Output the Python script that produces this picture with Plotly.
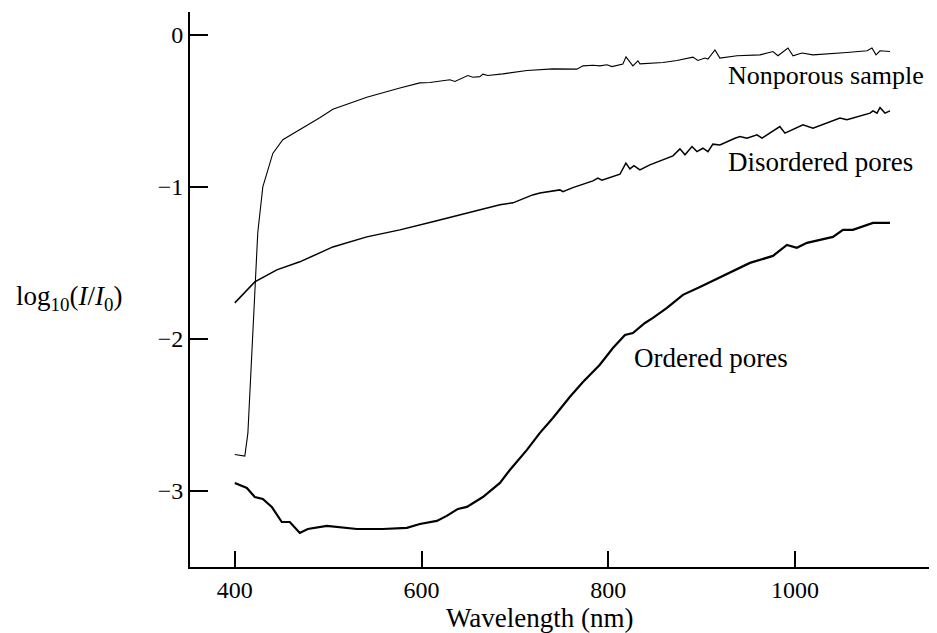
import plotly.graph_objects as go

# Nonporous sample
np_wl = [400, 410.7, 414, 417, 421.4, 424.6, 430, 434.3, 440.7, 451.4, 469.6, 491, 505, 541.4, 576.8,
         598.2, 608.9, 630.4, 635.7, 649.6, 655, 662.5, 665.7, 671, 687.1, 712.9, 740.7, 755.7, 766.4,
         772.9, 783.6, 791, 798.6, 804, 815.7, 819, 826.4, 831.8,
         834, 858.6, 873.6, 890.7, 896, 903.6, 906.8, 914.3, 919.6, 937.9, 962.5, 976.4, 981.8, 992.5,
         997.9, 1007.5, 1019.3, 1055.7, 1077.2, 1082.5, 1086.8, 1091.1, 1101.8]
np_val = [-2.76, -2.77, -2.62, -2.27, -1.74, -1.30, -1.0, -0.91, -0.78, -0.69, -0.625, -0.546, -0.49, -0.41, -0.35,
          -0.316, -0.314, -0.296, -0.307, -0.268, -0.279, -0.275, -0.259, -0.268, -0.257, -0.235, -0.224, -0.224, -0.226,
          -0.204, -0.200, -0.204, -0.197, -0.209, -0.192, -0.145, -0.204, -0.171,
          -0.191, -0.182, -0.169, -0.147, -0.169, -0.153, -0.160, -0.099, -0.153, -0.138, -0.132, -0.110, -0.138, -0.087,
          -0.138, -0.120, -0.132, -0.116, -0.105, -0.087, -0.132, -0.105, -0.110]

# Disordered pores
dis_wl = [400, 421.4, 445, 469.6, 491, 505, 541.4, 576.8, 612, 648.6, 684, 698, 719,
          726.8, 748.2, 751.4, 762.1, 783.6, 788.9, 793.2, 812.5, 818.9, 823.2, 827.5, 833.9, 844.6, 869.3,
          876.8, 882.2, 889.7, 895, 901.4, 906.8, 912.1, 919.6, 935.7, 941.1, 948.6, 959.3, 964.7, 976.4,
          983.8, 989.3, 1002.1, 1008.6, 1019.3, 1034.3, 1048.2, 1055.7, 1069.6, 1080.4, 1083.6, 1087.9,
          1091.1, 1096.4, 1101.8]
dis_val = [-1.763, -1.625, -1.546, -1.493, -1.434, -1.395, -1.329, -1.283, -1.23, -1.171, -1.118, -1.105, -1.053,
           -1.041, -1.020, -1.031, -1.005, -0.961, -0.943, -0.956, -0.917, -0.844, -0.882, -0.860, -0.888, -0.855, -0.796,
           -0.750, -0.789, -0.735, -0.768, -0.746, -0.768, -0.719, -0.724, -0.680, -0.669, -0.680, -0.658, -0.680, -0.636,
           -0.603, -0.647, -0.614, -0.592, -0.614, -0.581, -0.548, -0.559, -0.537, -0.515, -0.500, -0.515,
           -0.478, -0.515, -0.500]

# Ordered pores
ord_wl = [400, 412.9, 421.4, 430, 439.6, 450.3, 458.9, 469.6, 478.2, 498.6, 530.7, 558.6, 584.3, 598.2, 616.4, 627,
          639, 648.6, 665.7, 684, 694.6, 712.9, 726.8, 740.7, 759, 772.9, 791, 805, 817.9, 826.4, 839.3, 847.9,
          862.9, 880, 898.2, 951.8, 976.4, 991.4, 1002, 1012.9, 1040.7, 1051.4, 1062, 1083.6, 1101.8]
ord_val = [-2.947, -2.98, -3.04, -3.053, -3.105, -3.204, -3.204, -3.276, -3.25, -3.23, -3.25, -3.25, -3.243, -3.217, -3.197, -3.164,
           -3.118, -3.105, -3.04, -2.947, -2.862, -2.73, -2.618, -2.52, -2.38, -2.283, -2.17, -2.06, -1.974, -1.961, -1.895, -1.862,
           -1.796, -1.71, -1.658, -1.5, -1.454, -1.382, -1.401, -1.368, -1.329, -1.283, -1.283, -1.237, -1.237]

x_ticks = [400, 600, 800, 1000]
y_ticks = [0, -1, -2, -3]

FONT = "Liberation Serif, Times New Roman, serif"

fig = go.Figure()
fig.add_trace(go.Scatter(x=np_wl, y=np_val, mode="lines", line=dict(color="black", width=1.1), name="Nonporous sample"))
fig.add_trace(go.Scatter(x=dis_wl, y=dis_val, mode="lines", line=dict(color="black", width=1.5), name="Disordered pores"))
fig.add_trace(go.Scatter(x=ord_wl, y=ord_val, mode="lines", line=dict(color="black", width=2.2), name="Ordered pores"))

labels = [("Nonporous sample", 926, -0.27, 26), ("Disordered pores", 926, -0.835, 27), ("Ordered pores", 825.4, -2.125, 27)]
for txt, xx, yy, fs in labels:
    fig.add_annotation(x=xx, y=yy, text=txt, showarrow=False, xanchor="left", yanchor="middle",
                       font=dict(family=FONT, size=fs, color="black"))

fig.add_annotation(xref="paper", yref="paper", x=0.47, y=-0.092, text="Wavelength (nm)", showarrow=False,
                   xanchor="center", yanchor="middle", font=dict(family=FONT, size=27, color="black"))
fig.add_annotation(xref="paper", yref="paper", x=-0.162, y=0.485,
                   text="log<sub>10</sub>(<i>I</i>/<i>I</i><sub>0</sub>)", showarrow=False,
                   xanchor="center", yanchor="middle", font=dict(family=FONT, size=27, color="black"))

fig.update_layout(
    width=937, height=633,
    margin=dict(l=182, r=10, t=4, b=74),
    paper_bgcolor="white", plot_bgcolor="white",
    showlegend=False,
    font=dict(family=FONT, size=24, color="black"),
    xaxis=dict(range=[352, 1150], tickvals=x_ticks, ticks="inside", ticklen=16, tickwidth=2, tickcolor="black",
               showline=True, linecolor="black", linewidth=2, showgrid=False, zeroline=False,
               tickfont=dict(family=FONT, size=24, color="black")),
    yaxis=dict(range=[-3.5, 0.15], tickvals=y_ticks, ticks="inside", ticklen=18, tickwidth=2, tickcolor="black",
               showline=True, linecolor="black", linewidth=2, showgrid=False, zeroline=False,
               tickfont=dict(family=FONT, size=24, color="black")),
)

fig.write_html("out.html")
